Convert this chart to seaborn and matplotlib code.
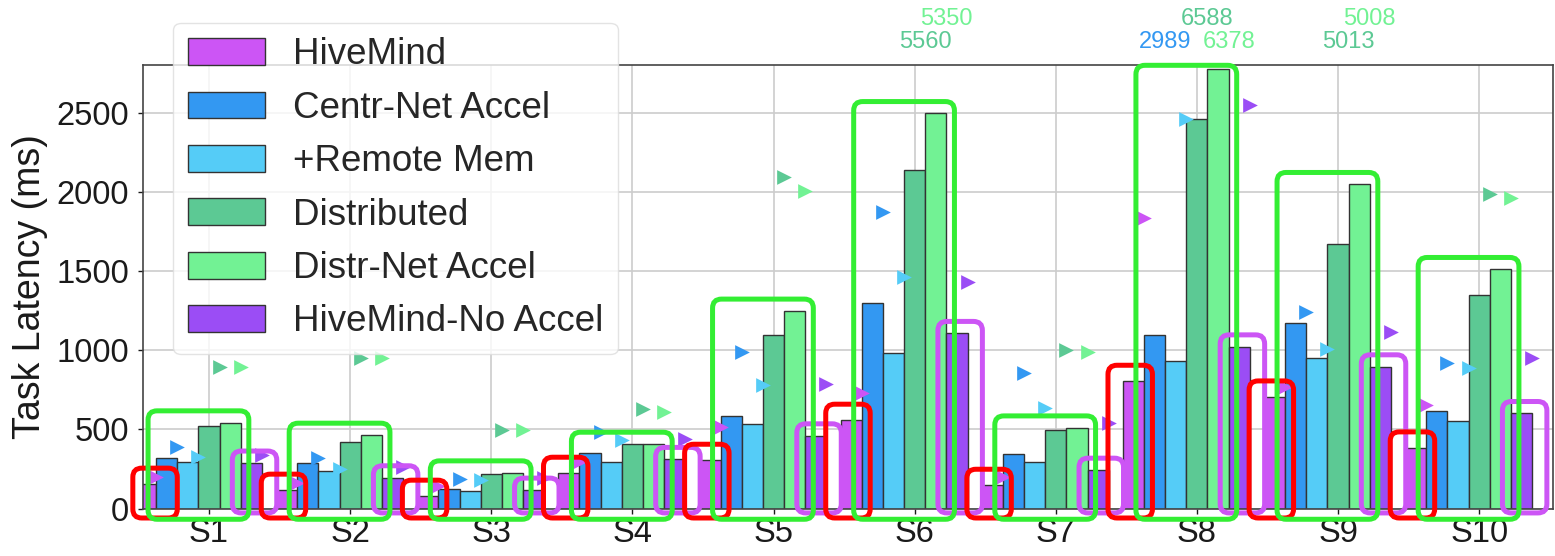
import numpy as np
import pandas as pd
import matplotlib
matplotlib.use("Agg")
import matplotlib.pyplot as plt
import seaborn as sns
from matplotlib.patches import FancyBboxPatch, Patch
from matplotlib.transforms import IdentityTransform

# ---------------------------------------------------------------- data
scenarios = ["S1", "S2", "S3", "S4", "S5", "S6", "S7", "S8", "S9", "S10"]
systems = ["HiveMind", "Centr-Net Accel", "+Remote Mem",
           "Distributed", "Distr-Net Accel", "HiveMind-No Accel"]
colors = ["#CC55F5", "#3398F2", "#55CCF7", "#5CC994", "#72F294", "#9B4DF5"]

# mean task latency (bars), ms
hivemind_mean = [155, 117, 79, 224, 306, 559, 148, 805, 706, 384]
centr_mean = [317, 289, 123, 352, 586, 1300, 344, 1096, 1175, 616]
remote_mean = [294, 239, 112, 292, 534, 980, 296, 932, 951, 553]
distr_mean = [522, 418, 216, 407, 1096, 2138, 496, 2462, 1669, 1349]
distrnet_mean = [542, 464, 226, 407, 1248, 2496, 510, 2776, 2048, 1511]
noaccel_mean = [288, 195, 117, 311, 460, 1107, 243, 1022, 896, 601]

# tail task latency (triangles), ms
hivemind_tail = [197, 161, 142, 296, 517, 728, 201, 1833, 770, 654]
centr_tail = [390, 317, 186, 481, 990, 1875, 854, 2989, 1243, 921]
remote_tail = [323, 248, 180, 433, 780, 1464, 637, 2460, 1006, 886]
distr_tail = [896, 949, 496, 627, 2096, 5560, 1001, 6588, 5013, 1987]
distrnet_tail = [896, 949, 496, 611, 2008, 5350, 990, 6378, 5008, 1963]
noaccel_tail = [335, 264, 191, 437, 786, 1433, 538, 2549, 1117, 953]

means = [hivemind_mean, centr_mean, remote_mean, distr_mean, distrnet_mean, noaccel_mean]
tails = [hivemind_tail, centr_tail, remote_tail, distr_tail, distrnet_tail, noaccel_tail]

y_max = 2800

# ---------------------------------------------------------------- style
sns.set_style("whitegrid")
plt.rcParams["font.family"] = ["Liberation Sans", "DejaVu Sans"]
plt.rcParams["axes.edgecolor"] = "#444444"
plt.rcParams["axes.linewidth"] = 1.2

df = pd.DataFrame({
    "scenario": np.repeat(scenarios, len(systems)),
    "system": systems * len(scenarios),
    "latency": [means[j][i] for i in range(len(scenarios)) for j in range(len(systems))],
})

fig = plt.figure(figsize=(15.55, 5.56), dpi=100)
ax = fig.add_axes([0.09177, 0.08543, 0.9070, 0.7971])

sns.barplot(data=df, x="scenario", y="latency", hue="system",
            order=scenarios, hue_order=systems,
            palette=dict(zip(systems, colors)), saturation=1,
            width=0.9, errorbar=None, edgecolor="#333333", linewidth=1.0,
            legend=False, ax=ax, zorder=2)

# bars ordered left to right: scenario-major, system-minor
bars = sorted(ax.patches, key=lambda p: p.get_x())
n_sys = len(systems)
bar_w = bars[0].get_width()
group_tick = np.arange(len(scenarios)) + 0.5 * bar_w  # under the "Distributed" bar

xlim = (group_tick[0] - 0.47, group_tick[-1] + 0.524)
ax.set_xlim(*xlim)
ax.set_ylim(0, y_max)

# tail-latency markers at the right edge of each bar
for j in range(n_sys):
    xs = [bars[i * n_sys + j].get_x() + bar_w for i in range(len(scenarios))]
    ax.scatter(xs, tails[j], marker=">", s=112, color=colors[j],
               linewidths=0, zorder=3)

# values that run off the top of the axes
for i in range(len(scenarios)):
    k = 0
    for j in range(n_sys):
        if tails[j][i] > y_max:
            x = bars[i * n_sys + j].get_x() + bar_w
            ax.annotate(f"{tails[j][i]}", xy=(x, 1.0),
                        xycoords=("data", "axes fraction"),
                        xytext=(0, 12.2 if k % 2 == 0 else 29.0),
                        textcoords="offset points", ha="center", va="baseline",
                        fontsize=17, color=colors[j], annotation_clip=False)
            k += 1

ax.set_xticks(group_tick, scenarios)
ax.set_xlabel("")
ax.set_ylabel("Task Latency (ms)", fontsize=27, labelpad=6, color="#1a1a1a")
ax.tick_params(axis="both", labelsize=23.5, colors="#1a1a1a", length=3.5,
               width=1.0, bottom=True, left=True)
ax.tick_params(axis="y", pad=6.5)
ax.tick_params(axis="x", pad=3.5)
ax.grid(True, color="#cccccc", linewidth=1.2)
ax.set_axisbelow(True)
for side in ["left", "right", "top", "bottom"]:
    ax.spines[side].set_visible(True)
    ax.spines[side].set_color("#444444")
    ax.spines[side].set_linewidth(1.2)

handles = [Patch(facecolor=c, edgecolor="#333333", linewidth=1.0, label=s)
           for s, c in zip(systems, colors)]
ax.legend(handles=handles, loc="upper left",
          bbox_to_anchor=(173.3 / 1555, 1 - 22.7 / 556),
          bbox_transform=fig.transFigure, borderaxespad=0,
          fontsize=26.5, handlelength=2.08, handleheight=0.74,
          handletextpad=0.76, labelspacing=0.5, borderpad=0.4,
          frameon=True, fancybox=True, framealpha=0.8, edgecolor="#dddddd")

# ---------------------------------------------------------------- highlight outlines
to_px = ax.transData.transform


def outline(x0, x1, y0, y1, color, z):
    (px0, py0) = to_px((x0, y0))
    (px1, py1) = to_px((x1, min(y1, y_max)))
    patch = FancyBboxPatch((px0, py0), px1 - px0, py1 - py0,
                           boxstyle="round,pad=0,rounding_size=9",
                           transform=IdentityTransform(), fill=False,
                           edgecolor=color, linewidth=3.6, clip_on=False,
                           zorder=z)
    ax.add_artist(patch)


inner_pad, outer_pad, mid_pad = 0.06, 0.105, 0.057
for i in range(len(scenarios)):
    first = bars[i * n_sys]
    last = bars[i * n_sys + n_sys - 1]
    # HiveMind-No Accel
    outline(last.get_x() - inner_pad, last.get_x() + bar_w + outer_pad,
            -28, noaccel_mean[i] + 75, "#CC55F5", 5.0)
    # HiveMind; kept clear of the tick labels on the left
    x0 = first.get_x() - outer_pad
    x1 = first.get_x() + bar_w + inner_pad
    shift = max(0.0, (xlim[0] - 0.07) - x0)
    outline(x0 + shift, x1 + shift,
            -60, hivemind_mean[i] + 100, "#FF0000", 5.1)
    # baselines in between
    mids = bars[i * n_sys + 1: i * n_sys + n_sys - 1]
    top = max(m[i] for m in means[1:n_sys - 1])
    outline(mids[0].get_x() - mid_pad, mids[-1].get_x() + bar_w + mid_pad,
            -68, top + 75, "#33EE33", 5.2)

fig.savefig("out.png", dpi=100)
